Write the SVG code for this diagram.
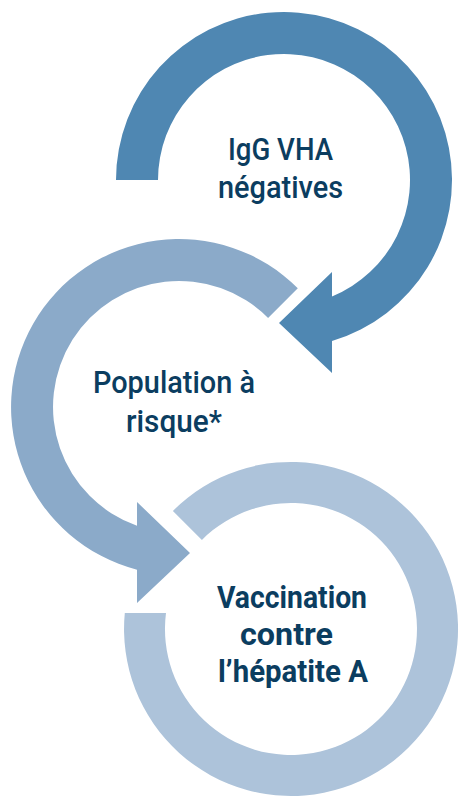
<svg xmlns="http://www.w3.org/2000/svg" width="459" height="797" viewBox="0 0 459 797">
<style>
.lbl{font-family:Roboto,"Liberation Sans",sans-serif;font-size:32px;fill:#0b3d60;text-anchor:middle;font-weight:500}
.b{font-weight:700}
</style>
<rect width="459" height="797" fill="#ffffff"/>
<g id="connectors">
<path id="ring1" fill="#4f87b2" d="M116,180 A168,168 0 1 1 332,341 L332,373 L279,323 L332,272 L332,296.5 A126,126 0 1 0 158,180 Z"/>
<path id="ring2" fill="#8baac9" d="M297.8,288.2 A168,168 0 1 0 137,569.7 L137,603 L190,553 L137,502 L137,525.8 A126,126 0 1 1 268.1,317.9 Z"/>
<path id="ring3" fill="#adc3da" d="M172.9,510.9 A167,167 0 1 1 124.8,613 L166,613 A126,126 0 1 0 201.9,539.9 Z"/>
</g>
<g id="node-igg">
<text class="lbl" x="280.5" y="160" textLength="105" lengthAdjust="spacingAndGlyphs">IgG VHA</text>
<text class="lbl" x="280.5" y="198" textLength="125" lengthAdjust="spacingAndGlyphs">négatives</text>
</g>
<g id="node-population">
<text class="lbl" x="174" y="393" textLength="162" lengthAdjust="spacingAndGlyphs">Population à</text>
<text class="lbl" x="174" y="432" textLength="96" lengthAdjust="spacingAndGlyphs">risque*</text>
</g>
<g id="node-vaccination">
<text class="lbl b" x="292" y="608" textLength="150" lengthAdjust="spacingAndGlyphs">Vaccination</text>
<text class="lbl b" x="286.5" y="645" textLength="93" lengthAdjust="spacingAndGlyphs">contre</text>
<text class="lbl b" x="293" y="682" textLength="150" lengthAdjust="spacingAndGlyphs">l’hépatite A</text>
</g>
</svg>
